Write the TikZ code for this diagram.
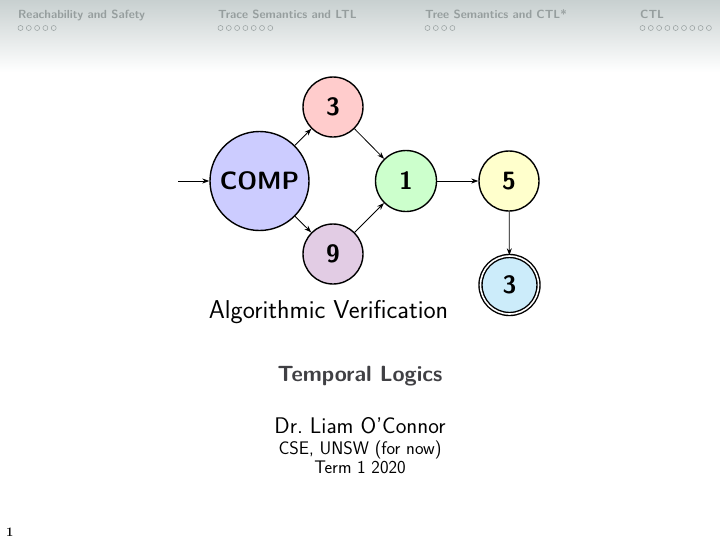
\documentclass[tikz,border=0pt]{standalone}
\usepackage{fontspec}
\usetikzlibrary{arrows.meta,shapes.geometric}
\definecolor{hdrtxt}{RGB}{150,158,158}
\definecolor{hdrtop}{RGB}{200,208,208}
\definecolor{cblue}{RGB}{204,204,255}
\definecolor{cpink}{RGB}{255,204,204}
\definecolor{cgreen}{RGB}{204,255,204}
\definecolor{cyellow}{RGB}{255,255,204}
\definecolor{cpurple}{RGB}{226,204,228}
\definecolor{ccyan}{RGB}{204,236,250}
\definecolor{subgray}{RGB}{64,64,68}
\begin{document}
\begin{tikzpicture}[x=1pt,y=-1pt,
  st/.style={circle,draw=black,line width=1.4pt,inner sep=0pt,font=\sffamily\bfseries\fontsize{25}{27}\selectfont},
  edge/.style={-{Stealth[length=7pt,width=5pt]},line width=0.8pt},
  hdr/.style={anchor=base west,inner sep=0pt,text=hdrtxt,font=\sffamily\bfseries\fontsize{11.8}{13}\selectfont},
  dot/.style={circle,draw=hdrtxt,line width=0.5pt,minimum size=5pt,inner sep=0pt}
]
\useasboundingbox (0,0) rectangle (720,541);
\fill[white] (0,0) rectangle (720,541);
\shade[top color=hdrtop,bottom color=white] (0,0) rectangle (720,72);
% header
\node[hdr] (h1) at (18,18) {Reachability and Safety};
\node[hdr] (h2) at (218,18) {Trace Semantics and LTL};
\node[hdr] (h3) at (425,18) {Tree Semantics and CTL*};
\node[hdr] (h4) at (640,18) {CTL};
\foreach \i in {0,...,4} \node[dot] (da\i) at (20.5+8.3*\i,28) {};
\foreach \i in {0,...,6} \node[dot] (db\i) at (220.5+8.3*\i,28) {};
\foreach \i in {0,...,3} \node[dot] (dc\i) at (427.5+8.3*\i,28) {};
\foreach \i in {0,...,8} \node[dot] (dd\i) at (642.5+8.3*\i,28) {};
% automaton
\node[st,fill=cblue,minimum size=99pt] (comp) at (259.5,181) {COMP};
\node[st,fill=cpink,minimum size=60pt] (t3) at (333,107) {3};
\node[st,fill=cpurple,minimum size=60pt] (n9) at (333,254) {9};
\node[st,fill=cgreen,minimum size=61pt] (n1) at (406,181) {1};
\node[st,fill=cyellow,minimum size=60pt] (n5) at (509,181) {5};
\node[st,fill=ccyan,minimum size=58pt,double=white,double distance=1.6pt] (b3) at (509.5,285) {3};
\coordinate (start) at (178,181);
\draw[edge] (start) -- (comp);
\draw[edge] (comp) -- (t3);
\draw[edge] (comp) -- (n9);
\draw[edge] (t3) -- (n1);
\draw[edge] (n9) -- (n1);
\draw[edge] (n1) -- (n5);
\draw[edge] (n5) -- (b3);
% titles
\node[font=\sffamily\fontsize{25.8}{28}\selectfont,anchor=base] (title) at (328.5,318) {Algorithmic Verification};
\node[font=\sffamily\bfseries\fontsize{22}{24}\selectfont,text=subgray,anchor=base] (sub) at (360,381) {Temporal Logics};
\node[font=\sffamily\fontsize{22.6}{24}\selectfont,anchor=base] (auth) at (360,433) {Dr.\ Liam O'Connor};
\node[font=\sffamily\fontsize{18.2}{20}\selectfont,anchor=base] (inst) at (360,454) {CSE, UNSW (for now)};
\node[font=\sffamily\fontsize{18.2}{20}\selectfont,anchor=base] (term) at (360,473) {Term 1 2020};
\node[font=\bfseries\fontsize{13}{14}\selectfont,anchor=base west,inner sep=0pt] (pg) at (6,536) {1};
\end{tikzpicture}
\end{document}
